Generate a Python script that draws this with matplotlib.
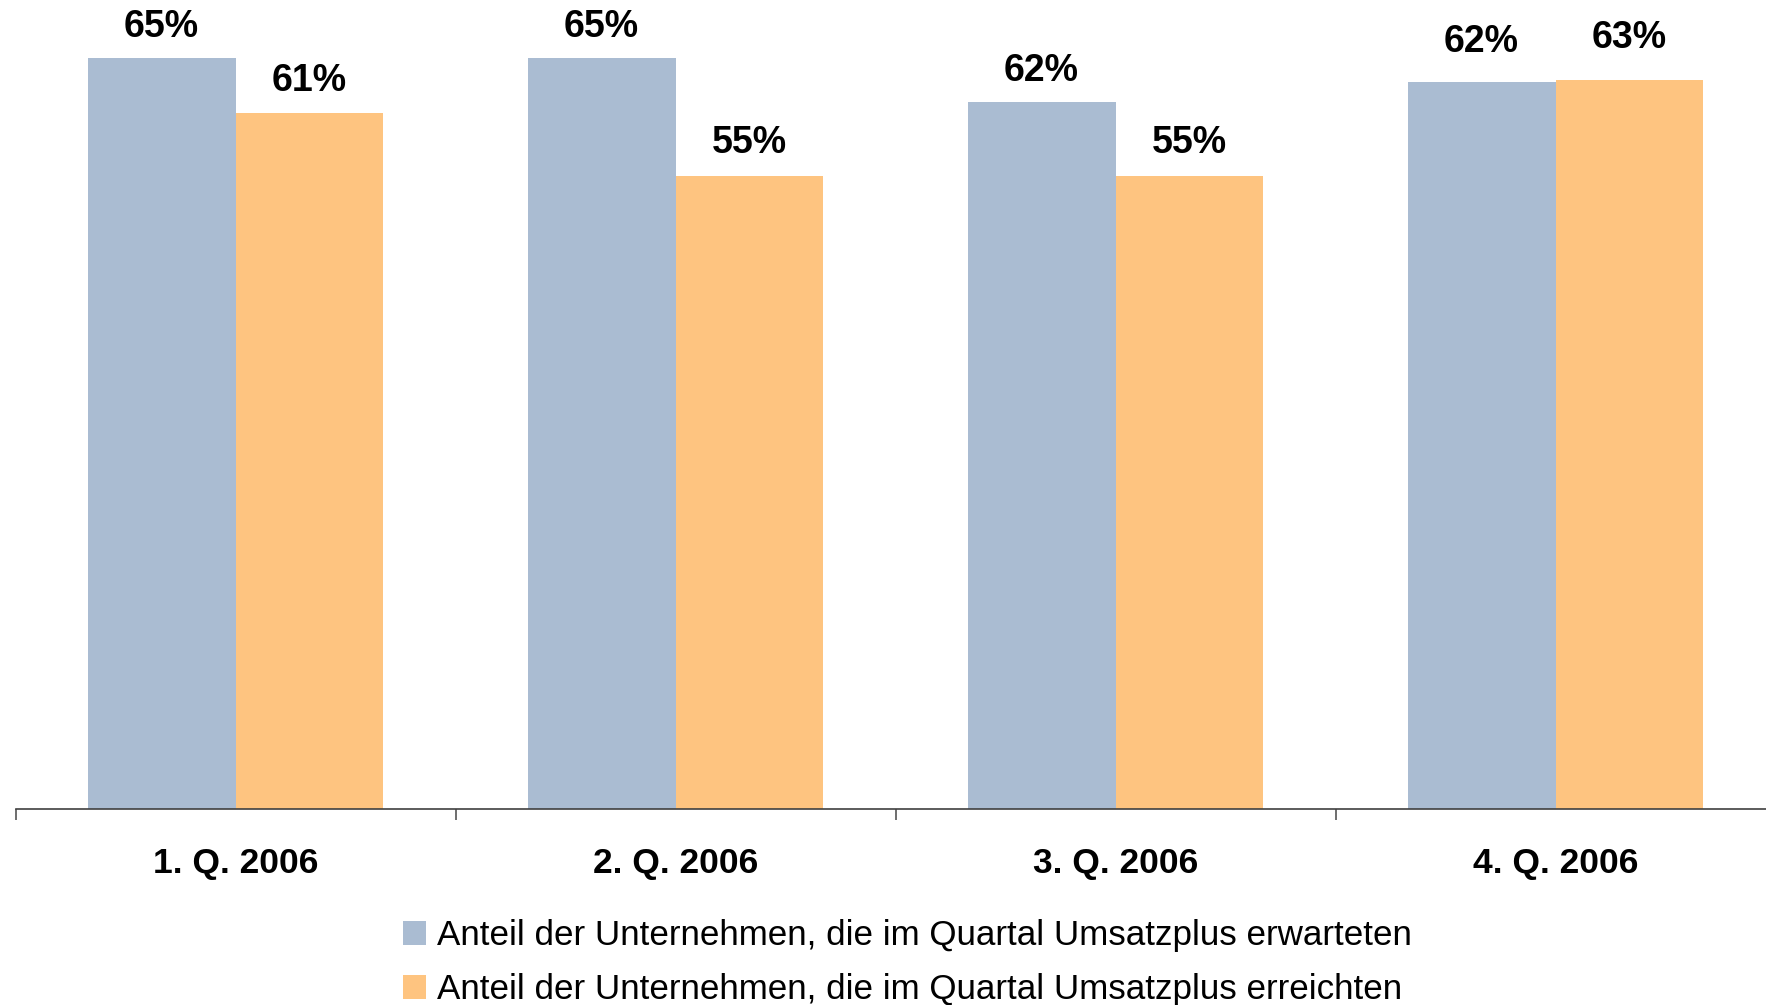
import matplotlib
matplotlib.use("Agg")
import matplotlib.pyplot as plt
import numpy as np

plt.rcParams['font.family'] = ['Liberation Sans', 'DejaVu Sans']

# Daten
quartale = ["1. Q. 2006", "2. Q. 2006", "3. Q. 2006", "4. Q. 2006"]
erwartet = [65.0, 65.0, 61.2, 62.9]
erreicht = [60.2, 54.8, 54.8, 63.1]
erwartet_txt = ["65%", "65%", "62%", "62%"]
erreicht_txt = ["61%", "55%", "55%", "63%"]
legende = ["Anteil der Unternehmen, die im Quartal Umsatzplus erwarteten",
           "Anteil der Unternehmen, die im Quartal Umsatzplus erreichten"]

blau = "#AABCD2"
orange = "#FEC480"

fig = plt.figure(figsize=(17.66, 10.05), dpi=100)
W, H = 1766, 1005
# axes: links 15.5px, Achse bei y=809, oben = 0
ax = fig.add_axes([15.5 / W, (H - 809) / H, 1760 / W, 809 / H])

x = np.arange(len(quartale))
bw = 0.336
b1 = ax.bar(x - bw / 2, erwartet, bw, color=blau, label=legende[0])
b2 = ax.bar(x + bw / 2, erreicht, bw, color=orange, label=legende[1])

# Beschriftungen ueber den Balken (4. Quartal etwas hoeher)
off = [15.1, 15.1, 15.1, 22.0]
for i in range(len(quartale)):
    ax.annotate(erwartet_txt[i], (x[i] - bw / 2, erwartet[i]), xytext=(0, off[i]),
                textcoords="offset points", ha="center", va="baseline",
                fontsize=27, fontweight="bold")
    ax.annotate(erreicht_txt[i], (x[i] + bw / 2, erreicht[i]), xytext=(0, off[i] + 1),
                textcoords="offset points", ha="center", va="baseline",
                fontsize=27, fontweight="bold")
    ax.annotate(quartale[i], (x[i], 0), xycoords=("data", "axes fraction"),
                xytext=(0, -46), textcoords="offset points", ha="center",
                va="baseline", fontsize=25.5, fontweight="bold")

ax.set_xlim(-0.5, 3.5)
ax.set_ylim(0, 70)
ax.set_yticks([])
ax.set_xticks([])
ax.set_xticks(np.arange(-0.5, 4.0, 1.0), minor=True)
ax.tick_params(axis="x", which="minor", length=8, width=1.2, color="#555555",
               direction="out", labelbottom=False)
for s in ["top", "right", "left"]:
    ax.spines[s].set_visible(False)
ax.spines["bottom"].set_color("#404040")
ax.spines["bottom"].set_linewidth(1.2)

fig.legend(handles=[b1, b2], labels=legende, loc="center left",
           bbox_to_anchor=(403 / W, 1 - 962.5 / H), frameon=False,
           fontsize=25.2, handlelength=0.66, handleheight=0.66,
           handletextpad=0.3, labelspacing=0.6, borderpad=0, borderaxespad=0)

fig.savefig("out.png", dpi=100)
